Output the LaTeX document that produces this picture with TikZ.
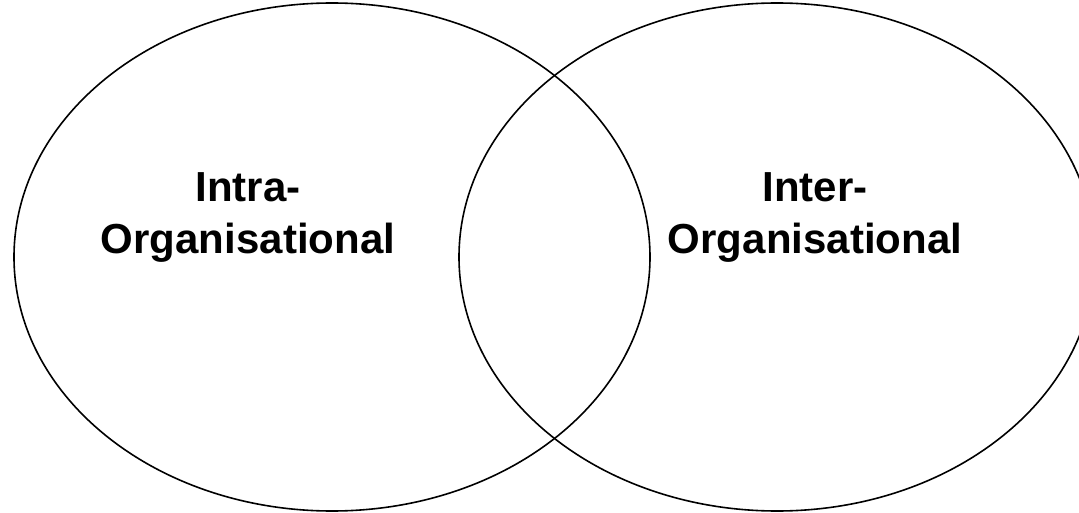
\documentclass[tikz,border=0pt]{standalone}
\usepackage{fontspec}
\setmainfont{Liberation Sans}
\usetikzlibrary{shapes.geometric}
\begin{document}
\begin{tikzpicture}[x=1pt,y=-1pt,
  setellipse/.style={draw=black, line width=1.6pt, ellipse, inner sep=0pt,
    minimum width=636pt, minimum height=508pt},
  lbl/.style={align=center, font=\fontsize{42}{52}\selectfont\bfseries,
    inner sep=0pt, anchor=north}]
  \useasboundingbox (0,0) rectangle (1079,513);
  \clip (0,0) rectangle (1079,513);
  % two overlapping sets
  \node[setellipse] (intra) at (332,257) {};
  \node[setellipse] (inter) at (777,257) {};
  % set labels
  \node[lbl] (intratext) at (248,172) {Intra-\\Organisational};
  \node[lbl] (intertext) at (815,172) {Inter-\\Organisational};
\end{tikzpicture}
\end{document}
